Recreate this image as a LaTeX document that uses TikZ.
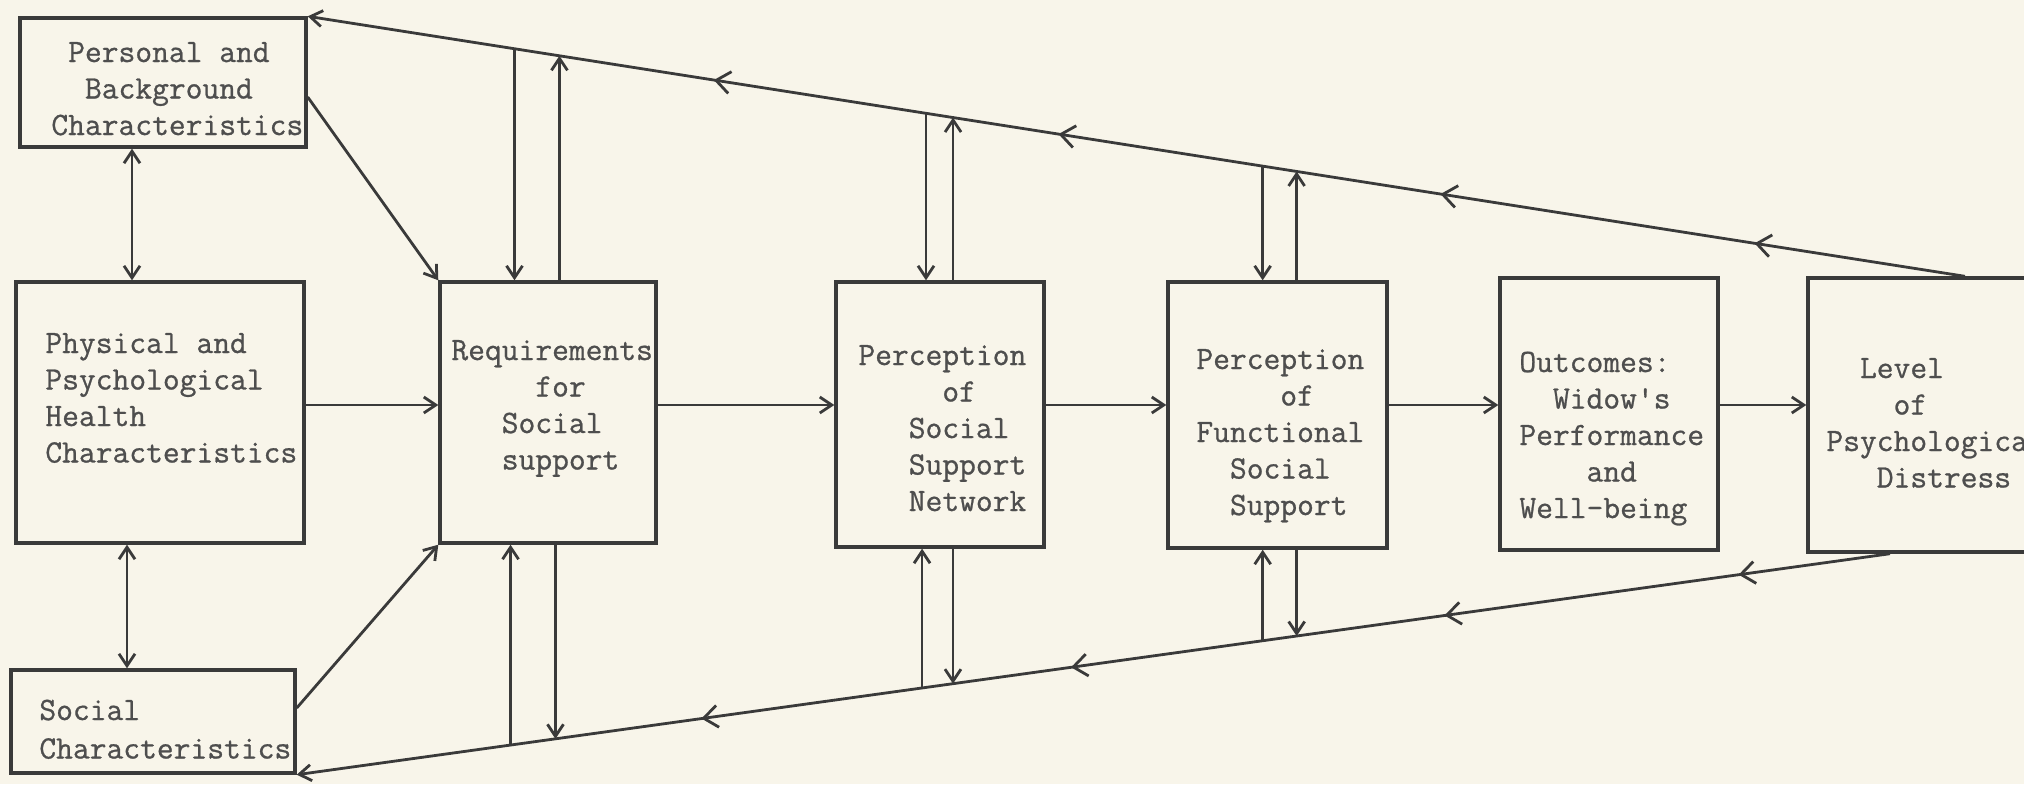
\documentclass[tikz,border=0pt]{standalone}
\usepackage{fontspec}
\usetikzlibrary{arrows.meta,decorations.markings,fit,calc}
\newfontfamily\typewriter{Latin Modern Mono}[FakeBold=0.8]
\definecolor{paper}{RGB}{248,245,234}
\definecolor{ink}{RGB}{58,58,58}
\definecolor{typeink}{RGB}{78,78,78}
% indent by a number of typewriter character cells
\newcommand{\ind}[1]{\hspace*{#1\fontcharwd\font`x}}
\begin{document}
\begin{tikzpicture}[x=0.5pt,y=-0.5pt,
  box/.style={draw=ink, line width=1.7pt, inner sep=0pt},
  txt/.style={inner sep=0pt, anchor=base west, text=typeink,
    font=\typewriter\fontsize{16.3}{18.25}\selectfont},
  plain/.style={draw=ink, line width=1.4pt},
  link/.style={plain, -{Straight Barb[length=6pt,width=8pt]}},
  both/.style={plain, {Straight Barb[length=6pt,width=8pt]}-{Straight Barb[length=6pt,width=8pt]}},
  fbtop/.style={link, postaction={decorate}, decoration={markings,
    mark=at position 0.127 with {\arrow{Straight Barb[length=7pt,width=11pt]}},
    mark=at position 0.3165 with {\arrow{Straight Barb[length=7pt,width=11pt]}},
    mark=at position 0.547 with {\arrow{Straight Barb[length=7pt,width=11pt]}},
    mark=at position 0.755 with {\arrow{Straight Barb[length=7pt,width=11pt]}}}},
  fbbot/.style={link, postaction={decorate}, decoration={markings,
    mark=at position 0.095 with {\arrow{Straight Barb[length=7pt,width=11pt]}},
    mark=at position 0.2796 with {\arrow{Straight Barb[length=7pt,width=11pt]}},
    mark=at position 0.514 with {\arrow{Straight Barb[length=7pt,width=11pt]}},
    mark=at position 0.746 with {\arrow{Straight Barb[length=7pt,width=11pt]}}}}
]
\useasboundingbox (0,0) rectangle (2024,784);
\fill[paper] (0,0) rectangle (2024,784);

% boxes
\node[box, fit={(20,18) (306,147)}] (pers) {};
\node[box, fit={(16,282) (304,543)}] (phys) {};
\node[box, fit={(11,670) (295,773)}] (soc) {};
\node[box, fit={(440,282) (656,543)}] (req) {};
\node[box, fit={(836,282) (1044,547)}] (net) {};
\node[box, fit={(1168,282) (1387,548)}] (fun) {};
\node[box, fit={(1500,278) (1718,550)}] (out) {};
\node[box, fit={(1808,278) (2065,552)}] (lev) {};

% box texts
\node[txt] (persT) at (51,62) {\begin{tabular}[t]{@{}l@{}}\ind{1}Personal and\\\ind{2}Background\\Characteristics\end{tabular}};
\node[txt] (physT) at (45,353) {\begin{tabular}[t]{@{}l@{}}Physical and\\Psychological\\Health\\Characteristics\end{tabular}};
\node[txt] (socT) at (39,720) {\begin{tabular}[t]{@{}l@{}}Social\\[1pt]Characteristics\end{tabular}};
\node[txt] (reqT) at (451,360) {\begin{tabular}[t]{@{}l@{}}Requirements\\\ind{5}for\\\ind{3}Social\\\ind{3}support\end{tabular}};
\node[txt] (netT) at (858,365) {\begin{tabular}[t]{@{}l@{}}Perception\\\ind{5}of\\\ind{3}Social\\\ind{3}Support\\\ind{3}Network\end{tabular}};
\node[txt] (funT) at (1196,369) {\begin{tabular}[t]{@{}l@{}}Perception\\\ind{5}of\\Functional\\\ind{2}Social\\\ind{2}Support\end{tabular}};
\node[txt] (outT) at (1519,372) {\begin{tabular}[t]{@{}l@{}}Outcomes:\\\ind{2}Widow\textquotesingle s\\Performance\\\ind{4}and\\Well-being\end{tabular}};
\node[txt] (levT) at (1826,378) {\begin{tabular}[t]{@{}l@{}}\ind{2}Level\\\ind{4}of\\Psychological\\\ind{3}Distress\end{tabular}};

% main chain
\draw[link] (phys.east |- 0,405) -- (req.west |- 0,405);
\draw[link] (req.east |- 0,405) -- (net.west |- 0,405);
\draw[link] (net.east |- 0,405) -- (fun.west |- 0,405);
\draw[link] (fun.east |- 0,405) -- (out.west |- 0,405);
\draw[link] (out.east |- 0,405) -- (lev.west |- 0,405);

% background characteristics
\draw[both] (pers.south -| 132,0) -- (phys.north -| 132,0);
\draw[both] (phys.south -| 127,0) -- (soc.north -| 127,0);
\draw[link] (pers.east |- 0,97) -- (req.north west);
\draw[link] (soc.east |- 0,708) -- (req.south west);

% feedback lines from the level of distress
\coordinate (fbT) at (lev.north west -| 1965,0);
\coordinate (fbB) at (lev.south west -| 1890,0);
\draw[fbtop] (fbT) -- (pers.north east);
\draw[fbbot] (fbB) -- (soc.south east);

% taps on the upper feedback line
\path (fbT) -- (pers.north east)
  coordinate[pos=0.8752] (ta1) coordinate[pos=0.8481] (ta2)
  coordinate[pos=0.6269] (tb1) coordinate[pos=0.6106] (tb2)
  coordinate[pos=0.4238] (tc1) coordinate[pos=0.4033] (tc2);
\draw[link] (ta1) -- (ta1 |- req.north);
\draw[link] (ta2 |- req.north) -- (ta2);
\draw[link] (tb1) -- (tb1 |- net.north);
\draw[link] (tb2 |- net.north) -- (tb2);
\draw[link] (tc1) -- (tc1 |- fun.north);
\draw[link] (tc2 |- fun.north) -- (tc2);

% taps on the lower feedback line
\path (fbB) -- (soc.south east)
  coordinate[pos=0.8658] (ba1) coordinate[pos=0.8376] (ba2)
  coordinate[pos=0.6075] (bb1) coordinate[pos=0.5881] (bb2)
  coordinate[pos=0.3937] (bc1) coordinate[pos=0.3724] (bc2);
\draw[link] (ba1) -- (ba1 |- req.south);
\draw[link] (ba2 |- req.south) -- (ba2);
\draw[link] (bb1) -- (bb1 |- net.south);
\draw[link] (bb2 |- net.south) -- (bb2);
\draw[link] (bc1) -- (bc1 |- fun.south);
\draw[link] (bc2 |- fun.south) -- (bc2);
\end{tikzpicture}
\end{document}
